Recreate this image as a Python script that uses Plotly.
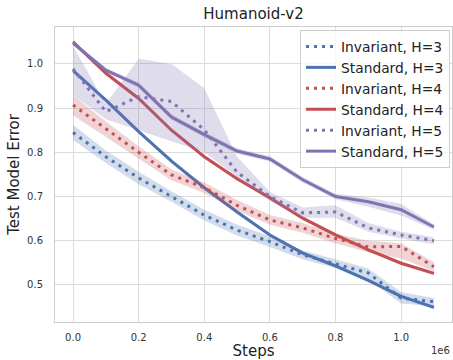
import plotly.graph_objects as go

steps = [0, 100000, 200000, 300000, 400000, 500000, 600000, 700000, 800000, 900000, 1000000, 1100000]

inv_h3 = [0.845, 0.79, 0.742, 0.70, 0.658, 0.624, 0.598, 0.568, 0.548, 0.527, 0.47, 0.462]
inv_h3_lo = [0.828, 0.776, 0.728, 0.688, 0.646, 0.612, 0.586, 0.558, 0.538, 0.512, 0.458, 0.452]
inv_h3_hi = [0.862, 0.804, 0.756, 0.712, 0.670, 0.636, 0.610, 0.578, 0.558, 0.537, 0.484, 0.470]

std_h3 = [0.985, 0.918, 0.847, 0.78, 0.72, 0.665, 0.613, 0.572, 0.543, 0.510, 0.474, 0.449]
std_h3_lo = [0.981, 0.914, 0.843, 0.776, 0.716, 0.661, 0.609, 0.568, 0.539, 0.506, 0.470, 0.445]
std_h3_hi = [0.989, 0.922, 0.851, 0.784, 0.724, 0.669, 0.617, 0.576, 0.547, 0.514, 0.478, 0.453]

inv_h4 = [0.907, 0.853, 0.80, 0.749, 0.72, 0.68, 0.647, 0.629, 0.605, 0.586, 0.587, 0.541]
inv_h4_lo = [0.884, 0.836, 0.786, 0.737, 0.708, 0.668, 0.636, 0.618, 0.594, 0.574, 0.560, 0.531]
inv_h4_hi = [0.929, 0.870, 0.814, 0.761, 0.732, 0.692, 0.658, 0.640, 0.616, 0.600, 0.594, 0.551]

std_h4 = [1.05, 0.979, 0.922, 0.85, 0.79, 0.74, 0.697, 0.651, 0.613, 0.579, 0.549, 0.526]
std_h4_lo = [1.046, 0.975, 0.918, 0.846, 0.786, 0.736, 0.693, 0.647, 0.609, 0.575, 0.545, 0.522]
std_h4_hi = [1.054, 0.983, 0.926, 0.854, 0.794, 0.744, 0.701, 0.655, 0.617, 0.583, 0.553, 0.530]

inv_h5 = [0.989, 0.892, 0.926, 0.915, 0.851, 0.755, 0.70, 0.663, 0.665, 0.629, 0.613, 0.60]
inv_h5_lo = [0.93, 0.875, 0.85, 0.825, 0.80, 0.745, 0.69, 0.652, 0.652, 0.62, 0.605, 0.592]
inv_h5_hi = [1.04, 0.91, 1.012, 1.0, 0.945, 0.79, 0.71, 0.675, 0.68, 0.64, 0.62, 0.608]

std_h5 = [1.047, 0.986, 0.952, 0.88, 0.84, 0.803, 0.785, 0.738, 0.70, 0.688, 0.67, 0.631]
std_h5_lo = [1.042, 0.981, 0.946, 0.874, 0.834, 0.797, 0.779, 0.732, 0.694, 0.677, 0.657, 0.625]
std_h5_hi = [1.052, 0.991, 0.958, 0.886, 0.846, 0.809, 0.791, 0.744, 0.706, 0.698, 0.683, 0.637]

xtick_vals = [0, 200000, 400000, 600000, 800000, 1000000]
xtick_text = ["0.0", "0.2", "0.4", "0.6", "0.8", "1.0"]
ytick_vals = [0.5, 0.6, 0.7, 0.8, 0.9, 1.0]

BLUE = "76,114,176"
RED = "196,78,82"
PURPLE = "129,114,178"

series = [
    ("Invariant, H=3", inv_h3, inv_h3_lo, inv_h3_hi, BLUE, "3px,5px"),
    ("Standard, H=3", std_h3, std_h3_lo, std_h3_hi, BLUE, "solid"),
    ("Invariant, H=4", inv_h4, inv_h4_lo, inv_h4_hi, RED, "3px,5px"),
    ("Standard, H=4", std_h4, std_h4_lo, std_h4_hi, RED, "solid"),
    ("Invariant, H=5", inv_h5, inv_h5_lo, inv_h5_hi, PURPLE, "3px,5px"),
    ("Standard, H=5", std_h5, std_h5_lo, std_h5_hi, PURPLE, "solid"),
]

fig = go.Figure()
for name, y, lo, hi, col, dash in series:
    fig.add_trace(go.Scatter(
        x=steps + steps[::-1], y=hi + lo[::-1], fill="toself",
        fillcolor=f"rgba({col},0.25)", line=dict(width=0),
        mode="lines", showlegend=False, hoverinfo="skip"))
    fig.add_trace(go.Scatter(
        x=steps, y=y, mode="lines", name=name,
        line=dict(color=f"rgb({col})", width=3, dash=dash)))

axis_common = dict(
    showgrid=True, gridcolor="#dcdcdc", gridwidth=1,
    showline=True, linecolor="#cccccc", linewidth=1, mirror=True,
    zeroline=False, ticks="outside", tickcolor="rgba(0,0,0,0)",
    automargin=False,
    tickfont=dict(family="DejaVu Sans", size=10, color="#333333"),
)

fig.update_layout(
    template="none",
    width=453, height=360,
    margin=dict(l=55, r=1, t=27, b=38),
    paper_bgcolor="white", plot_bgcolor="white",
    font=dict(family="DejaVu Sans", color="#222222"),
    title=dict(text="Humanoid-v2", xref="paper", x=0.5, xanchor="center",
               y=0.962, yanchor="middle",
               font=dict(family="DejaVu Sans", size=15, color="#222222")),
    xaxis=dict(range=[-55000, 1155000], tickvals=xtick_vals, ticktext=xtick_text, ticklen=6,
               title=dict(text="Steps", standoff=10, font=dict(family="DejaVu Sans", size=15, color="#222222")),
               **axis_common),
    yaxis=dict(range=[0.416, 1.0837], tickvals=ytick_vals, tickformat=".1f", ticklen=9,
               title=dict(text="Test Model Error", standoff=3, font=dict(family="DejaVu Sans", size=15, color="#222222")),
               **axis_common),
    legend=dict(x=0.995, y=0.99, xanchor="right", yanchor="top",
                bgcolor="rgba(255,255,255,0.8)", bordercolor="#cccccc", borderwidth=1,
                font=dict(family="DejaVu Sans", size=13.8, color="#222222"),
                tracegroupgap=0, itemwidth=30),
    annotations=[dict(text="1e6", xref="paper", yref="paper", x=1.0, y=-0.07,
                      xanchor="right", yanchor="top", showarrow=False,
                      font=dict(family="DejaVu Sans", size=10, color="#333333"))],
)

fig.write_html("out.html", config={"displayModeBar": False},
               post_script="document.body.style.margin='0';")
